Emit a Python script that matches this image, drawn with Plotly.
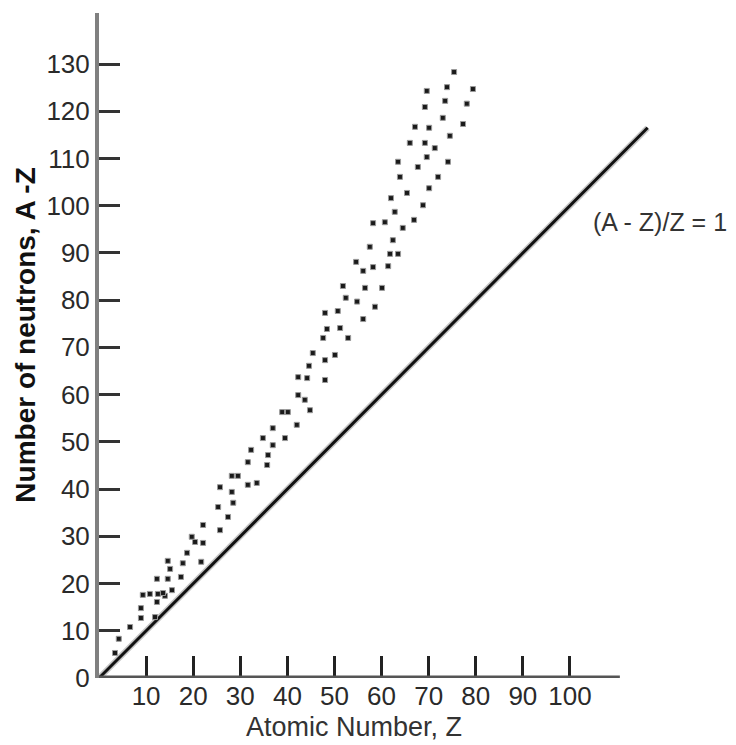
import plotly.graph_objects as go

# Stable nuclides: atomic number Z and neutron number N
Z = [3.4, 4.2, 6.6, 8.9, 8.9, 9.3, 10.8, 12.5, 14.0, 12.3, 11.9, 13.6, 15.5,
     12.3, 14.6, 15.1, 14.6, 17.4, 17.8, 18.7, 21.7, 20.4, 22.1, 19.7, 22.1,
     25.7, 25.3, 27.4, 25.7, 28.2, 28.5, 28.2, 29.5, 31.6, 33.5, 31.6, 32.3,
     35.7, 35.9, 34.8, 36.9, 36.9, 39.5, 42.0, 38.9, 40.1, 44.8, 42.3, 43.7,
     42.3, 44.2, 48.0, 44.6, 48.0, 45.4, 50.1, 47.6, 48.4, 51.2, 52.9, 48.0,
     50.7, 56.1, 58.6, 52.4, 54.8, 51.8, 56.5, 60.1, 54.6, 56.1, 58.2, 61.4,
     57.5, 61.8, 63.5, 62.4, 58.2, 60.7, 64.5, 66.9, 62.8, 68.8, 62.0, 65.4,
     70.1, 72.0, 63.9, 63.5, 67.7, 69.6, 74.1, 66.0, 69.2, 71.3, 74.5, 67.1,
     70.1, 73.0, 77.3, 69.2, 73.5, 78.1, 69.6, 73.9, 79.4, 75.4]
N = [5.3, 8.3, 10.8, 14.8, 12.7, 17.6, 17.8, 17.8, 17.4, 16.1, 12.9, 18.0, 18.6,
     21.0, 21.0, 23.1, 24.8, 21.4, 24.3, 26.5, 24.6, 28.8, 28.6, 29.9, 32.4,
     31.3, 36.2, 34.1, 40.4, 39.4, 37.1, 42.8, 42.8, 40.9, 41.3, 45.7, 48.3,
     45.1, 47.2, 50.8, 49.3, 52.9, 50.8, 53.6, 56.3, 56.3, 56.7, 59.9, 58.9,
     63.7, 63.5, 63.1, 66.1, 67.3, 68.8, 68.4, 72.0, 73.9, 74.1, 72.0, 77.3,
     77.7, 76.0, 78.6, 80.5, 79.7, 83.0, 82.6, 82.6, 88.1, 86.2, 87.0, 87.2,
     91.3, 89.8, 89.8, 92.7, 96.3, 96.5, 95.3, 97.0, 98.7, 100.1, 101.6, 102.7,
     103.7, 106.1, 106.1, 109.3, 108.2, 110.3, 109.3, 113.3, 113.3, 112.2, 114.8, 116.7,
     116.5, 118.6, 117.3, 120.9, 122.2, 121.6, 124.3, 125.1, 124.7, 128.3]

# Reference line (A - Z)/Z = 1, i.e. N = Z
line_z = [0, 116.5]
line_n = [0, 116.5]

x_ticks = [10, 20, 30, 40, 50, 60, 70, 80, 90, 100]
x_labels = [str(v) for v in x_ticks]
y_ticks = [0, 10, 20, 30, 40, 50, 60, 70, 80, 90, 100, 110, 120, 130]
y_labels = [str(v) for v in y_ticks]
x_axis_end = 110.6

FONT = "Liberation Sans, Arial, sans-serif"

fig = go.Figure()
fig.add_trace(go.Scatter(x=line_z, y=line_n, mode="lines",
                         line=dict(color="#c4c4c4", width=6),
                         hoverinfo="skip", showlegend=False))
fig.add_trace(go.Scatter(x=line_z, y=line_n, mode="lines",
                         line=dict(color="#111111", width=3),
                         showlegend=False))
fig.add_trace(go.Scatter(x=Z, y=N, mode="markers",
                         marker=dict(symbol="square", size=5, color="#1a1a1a",
                                     line=dict(width=1, color="#9a9a9a")),
                         showlegend=False))

fig.add_shape(type="line", xref="x", yref="y", x0=0, x1=x_axis_end, y0=0, y1=0,
              line=dict(color="#555555", width=5), layer="above")

fig.add_annotation(text="Number of neutrons, A -Z", xref="paper", yref="paper",
                   x=-0.134, y=0.515, textangle=-90, showarrow=False,
                   xanchor="center", yanchor="middle",
                   font=dict(family=FONT, size=28, color="#111111", weight="bold"))
fig.add_annotation(text="Atomic Number, Z", xref="paper", yref="paper",
                   x=0.463, y=-0.074, showarrow=False,
                   xanchor="center", yanchor="middle",
                   font=dict(family=FONT, size=27, color="#333333"))
fig.add_annotation(text="(A - Z)/Z = 1", xref="paper", yref="paper",
                   x=1.018, y=0.686, showarrow=False,
                   xanchor="center", yanchor="middle",
                   font=dict(family=FONT, size=25, color="#333333"))

fig.update_layout(
    width=736, height=745,
    margin=dict(l=99, r=86, t=13, b=67),
    paper_bgcolor="white", plot_bgcolor="white",
    showlegend=False,
    xaxis=dict(range=[0, 117], showgrid=False, zeroline=False, showline=False,
               ticks="inside", ticklen=22, tickwidth=3, tickcolor="#222222",
               tickvals=x_ticks, ticktext=x_labels,
               tickfont=dict(family=FONT, size=26, color="#2a2a2a")),
    yaxis=dict(range=[0, 140.8], showgrid=False, zeroline=False, showline=True,
               linecolor="#808080", linewidth=4,
               ticks="inside", ticklen=21, tickwidth=3, tickcolor="#333333",
               tickvals=y_ticks, ticktext=y_labels,
               tickfont=dict(family=FONT, size=26, color="#2a2a2a")),
)

fig.write_html("out.html", config={"displayModeBar": False},
               post_script="document.body.style.margin='0';")
